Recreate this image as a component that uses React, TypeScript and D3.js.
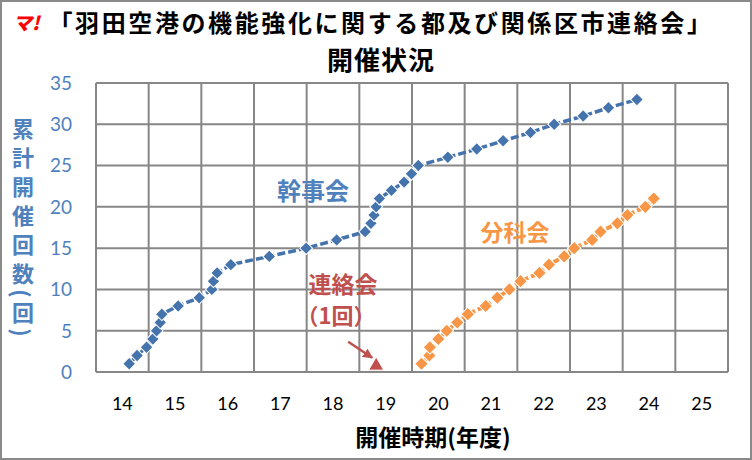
import * as d3 from 'd3';

// 幹事会: cumulative meeting count vs. fiscal year position (Heisei)
const KANJI_X = [
  14.63, 14.78, 14.96, 15.08, 15.15, 15.22, 15.25, 15.56, 15.96, 16.2, 16.23,
  16.3, 16.56, 17.29, 17.99, 18.57, 19.11, 19.22, 19.28, 19.32, 19.38, 19.61,
  19.85, 19.99, 20.12, 20.68, 21.23, 21.73, 22.25, 22.7, 23.25, 23.73, 24.27,
];
const KANJI_COUNT = [
  1, 2, 3, 4, 5, 6, 7, 8, 9, 10, 11, 12, 13, 14, 15, 16, 17, 18, 19, 20, 21, 22,
  23, 24, 25, 26, 27, 28, 29, 30, 31, 32, 33,
];

// 分科会
const BUNKA_X = [
  20.18, 20.33, 20.34, 20.5, 20.66, 20.86, 21.06, 21.4, 21.62, 21.85, 22.06,
  22.42, 22.6, 22.89, 23.08, 23.42, 23.58, 23.9, 24.09, 24.43, 24.59,
];
const BUNKA_COUNT = [
  1, 2, 3, 4, 5, 6, 7, 8, 9, 10, 11, 12, 13, 14, 15, 16, 17, 18, 19, 20, 21,
];

// 連絡会 (1回)
const RENRAKU_X = [19.32];
const RENRAKU_COUNT = [1];

const YEAR_LABELS = ['14', '15', '16', '17', '18', '19', '20', '21', '22', '23', '24', '25'];
const Y_TICKS = [0, 5, 10, 15, 20, 25, 30, 35];
const Y_TITLE = ['累', '計', '開', '催', '回', '数', '(', '回', ')'];

const W = 752;
const H = 460;
const CJK = '"Noto Sans CJK JP", sans-serif';
const NUM = 'Lato, "Open Sans", sans-serif';

const BLUE = '#4573AC';
const LABEL_BLUE = '#4F81BD';
const ORANGE = '#F79646';
const RED = '#C0504D';
const GRID = '#878787';

export default function App() {
  const x = d3.scaleLinear().domain([14, 26]).range([96, 728]);
  const y = d3.scaleLinear().domain([0, 35]).range([372, 83]);

  const kanji = KANJI_X.map((v, i) => [v, KANJI_COUNT[i]] as [number, number]);
  const bunka = BUNKA_X.map((v, i) => [v, BUNKA_COUNT[i]] as [number, number]);
  const renraku = RENRAKU_X.map((v, i) => [v, RENRAKU_COUNT[i]] as [number, number]);

  const line = d3
    .line<[number, number]>()
    .x((d) => x(d[0]))
    .y((d) => y(d[1]));

  const blueMarker = d3.symbol(d3.symbolSquare, 82)()!;
  const orangeMarker = d3.symbol(d3.symbolSquare, 92)()!;
  const triangle = d3.symbol(d3.symbolTriangle, 100)()!;

  const yearLines = d3.range(14, 27);

  // vertical y-title: full chars take 29px, parens are short
  let cursor = 114.5;
  const titleChars = Y_TITLE.map((ch) => {
    const paren = ch === '(' || ch === ')';
    const h = paren ? 10 : 29;
    const cy = cursor + h / 2;
    cursor += h;
    return { ch, cy, paren };
  });

  const [rx, ry] = [x(renraku[0][0]), y(renraku[0][1])];
  const tip: [number, number] = [rx - 4, ry - 6];
  const tail: [number, number] = [tip[0] - 24, tip[1] - 16];

  return (
    <svg
      width={W}
      height={H}
      style={{ position: 'absolute', left: 0, top: 0, background: '#fff' }}
    >
      <defs>
        <marker id="arr" viewBox="0 0 10 10" refX="9" refY="5" markerWidth="4" markerHeight="4" orient="auto">
          <path d="M0,0 L10,5 L0,10 z" fill={RED} />
        </marker>
      </defs>
      <rect x={1} y={1} width={W - 2} height={H - 2} fill="#fff" stroke="#8a8a8a" strokeWidth={2} />

      {/* title */}
      <text x={13} y={30} fontFamily={CJK} fontSize={19} fontWeight={900} fontStyle="italic" fill="#FF0000">
        マ!
      </text>
      <text x={381} y={32} textAnchor="middle" fontFamily={CJK} fontSize={24} fontWeight={700} letterSpacing={2.6} fill="#000">
        「羽田空港の機能強化に関する都及び関係区市連絡会」
      </text>
      <text x={381} y={70} textAnchor="middle" fontFamily={CJK} fontSize={26} fontWeight={700} letterSpacing={1} fill="#000">
        開催状況
      </text>

      {/* grid */}
      <g stroke={GRID} strokeWidth={2}>
        {Y_TICKS.map((t) => (
          <line key={`h${t}`} x1={x(14)} x2={x(26)} y1={y(t)} y2={y(t)} />
        ))}
        {yearLines.map((yr) => (
          <line key={`v${yr}`} x1={x(yr)} x2={x(yr)} y1={y(35)} y2={y(0)} />
        ))}
      </g>

      {/* y axis labels */}
      {Y_TICKS.map((t) => (
        <text key={`yl${t}`} x={72} y={y(t)} dy="0.36em" textAnchor="end" fontFamily={NUM} fontSize={19} fill={LABEL_BLUE}>
          {t}
        </text>
      ))}

      {/* x axis labels */}
      {YEAR_LABELS.map((lab, i) => (
        <text key={`xl${lab}`} x={x(14 + i + 0.5)} y={410} textAnchor="middle" fontFamily={NUM} fontSize={18} fill="#000">
          {lab}
        </text>
      ))}

      <text x={433} y={446} textAnchor="middle" fontFamily={CJK} fontSize={23} fontWeight={700} fill="#000">
        開催時期(年度)
      </text>

      {/* y title, stacked; parens turned sideways */}
      {titleChars.map((c, i) =>
        c.paren ? (
          <g key={`yt${i}`} transform={`translate(23,${c.cy}) rotate(90)`}>
            <text
              x={0}
              y={0}
              textAnchor="middle"
              dominantBaseline="central"
              fontFamily={CJK}
              fontSize={22}
              fontWeight={700}
              fill={LABEL_BLUE}
            >
              {c.ch}
            </text>
          </g>
        ) : (
          <text
            key={`yt${i}`}
            x={23}
            y={c.cy}
            dy="0.38em"
            textAnchor="middle"
            fontFamily={CJK}
            fontSize={22}
            fontWeight={700}
            fill={LABEL_BLUE}
          >
            {c.ch}
          </text>
        ),
      )}

      {/* series: 幹事会 */}
      <path d={line(kanji)!} fill="none" stroke={BLUE} strokeWidth={3.5} strokeDasharray="8 3" />
      {kanji.map((d, i) => (
        <path
          key={`k${i}`}
          d={blueMarker}
          transform={`translate(${x(d[0])},${y(d[1])}) rotate(45)`}
          fill={BLUE}
          stroke="#fff"
          strokeWidth={1}
        />
      ))}

      {/* series: 分科会 */}
      <path d={line(bunka)!} fill="none" stroke={ORANGE} strokeWidth={4} strokeDasharray="6 3" />
      {bunka.map((d, i) => (
        <path
          key={`b${i}`}
          d={orangeMarker}
          transform={`translate(${x(d[0])},${y(d[1])}) rotate(45)`}
          fill={ORANGE}
          stroke="#fff"
          strokeWidth={1}
        />
      ))}

      {/* series: 連絡会 */}
      {renraku.map((d, i) => (
        <path
          key={`r${i}`}
          d={triangle}
          transform={`translate(${x(d[0])},${y(d[1]) + 2})`}
          fill={RED}
          stroke="#fff"
          strokeWidth={1}
        />
      ))}
      <line x1={tail[0]} y1={tail[1]} x2={tip[0]} y2={tip[1]} stroke={RED} strokeWidth={2.5} markerEnd="url(#arr)" />

      {/* annotations */}
      <text x={313} y={200} textAnchor="middle" fontFamily={CJK} fontSize={24} fontWeight={700} fill={LABEL_BLUE}>
        幹事会
      </text>
      <text x={515} y={241} textAnchor="middle" fontFamily={CJK} fontSize={23} fontWeight={700} fill={ORANGE}>
        分科会
      </text>
      <text x={343} y={293} textAnchor="middle" fontFamily={CJK} fontSize={23} fontWeight={700} fill={RED}>
        連絡会
      </text>
      <text x={336} y={324} textAnchor="middle" fontFamily={CJK} fontSize={22} fontWeight={700} fill={RED}>
        （1回）
      </text>
    </svg>
  );
}
